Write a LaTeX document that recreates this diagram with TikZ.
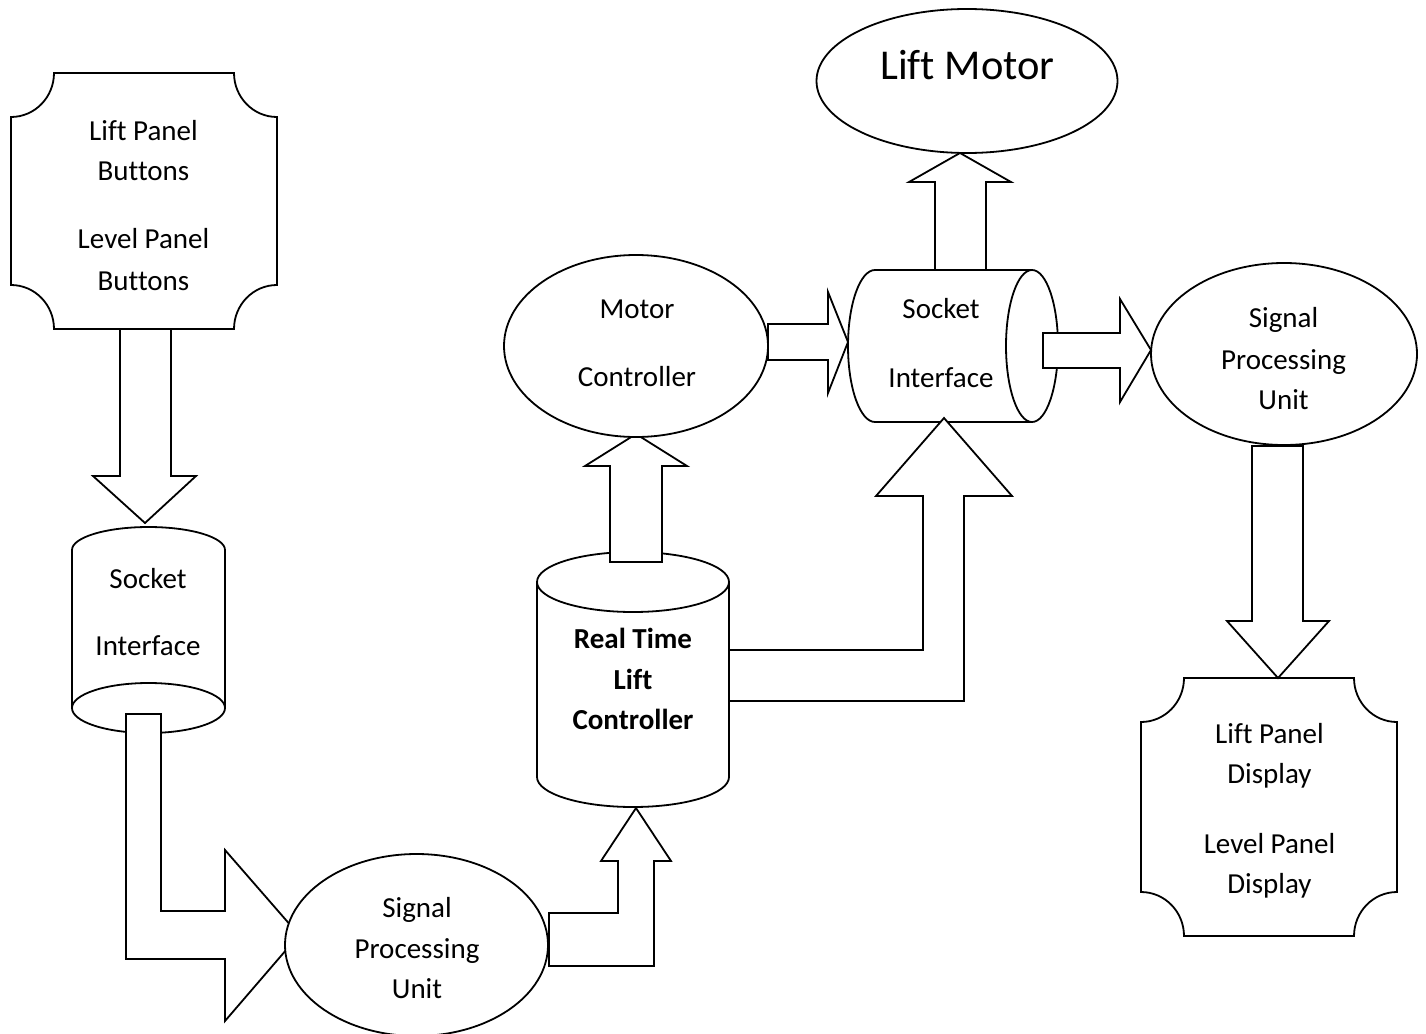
\documentclass[tikz,border=0pt]{standalone}
\usepackage{fontspec}
\setmainfont{Carlito}[Ligatures={NoCommon}]
\usetikzlibrary{shapes.geometric,calc}
\begin{document}
\begin{tikzpicture}[x=1pt,y=-1pt,
  shp/.style={draw=black, fill=white, line width=1.8pt, line join=miter},
  inner/.style={draw=black, line width=1.8pt},
  oval/.style={ellipse, draw=black, fill=white, line width=1.8pt, inner sep=0pt, outer sep=0pt},
  lbl/.style={anchor=base, inner sep=0pt, font=\fontsize{29}{35}\selectfont},
  blbl/.style={anchor=base, inner sep=0pt, font=\fontsize{29}{35}\selectfont\bfseries},
  big/.style={anchor=base, inner sep=0pt, font=\fontsize{42.5}{50}\selectfont},
]
\useasboundingbox (0,0) rectangle (1426,1033);

% ---- plaques ----
\draw[shp] (54,73) -- (234,73) arc[start angle=180,end angle=90,x radius=43,y radius=44]
  -- (277,285) arc[start angle=270,end angle=180,x radius=43,y radius=44]
  -- (54,329) arc[start angle=360,end angle=270,x radius=43,y radius=44]
  -- (11,117) arc[start angle=90,end angle=0,x radius=43,y radius=44] -- cycle;
\draw[shp] (1184,678) -- (1354,678) arc[start angle=180,end angle=90,x radius=43,y radius=44]
  -- (1397,892) arc[start angle=270,end angle=180,x radius=43,y radius=44]
  -- (1184,936) arc[start angle=360,end angle=270,x radius=43,y radius=44]
  -- (1141,722) arc[start angle=90,end angle=0,x radius=43,y radius=44] -- cycle;

% ---- cylinders ----
% Socket Interface (left, vertical, ellipse at bottom)
\draw[shp] (72,708) -- (72,550) arc[start angle=180,end angle=360,x radius=76.5,y radius=23]
  -- (225,708) arc[start angle=0,end angle=180,x radius=76.5,y radius=25] -- cycle;
\draw[inner] (72,708) arc[start angle=180,end angle=360,x radius=76.5,y radius=25];
% Real Time Lift Controller
\draw[shp] (537,582) -- (537,777) arc[start angle=180,end angle=0,x radius=96,y radius=30]
  -- (729,582) arc[start angle=0,end angle=-180,x radius=96,y radius=30] -- cycle;
\draw[inner] (537,582) arc[start angle=180,end angle=0,x radius=96,y radius=30];
% Socket Interface (right, horizontal)
\draw[shp] (875,270) -- (1032,270) arc[start angle=270,end angle=450,x radius=26,y radius=76]
  -- (875,422) arc[start angle=90,end angle=270,x radius=27,y radius=76] -- cycle;
\draw[inner] (1032,270) arc[start angle=270,end angle=90,x radius=26,y radius=76];

% ---- block arrows ----
% buttons -> socket
\draw[shp] (120,329) -- (120,476) -- (93,476) -- (145,523) -- (196,476) -- (171,476) -- (171,329) -- cycle;
% socket -> signal processing (L)
\draw[shp] (126,714) -- (161,714) -- (161,911) -- (225,911) -- (225,850) -- (299,935)
  -- (225,1021) -- (225,959) -- (126,959) -- cycle;
% signal processing -> real time controller
\draw[shp] (549,913) -- (618,913) -- (618,861) -- (601,861) -- (636,808) -- (671,861)
  -- (654,861) -- (654,966) -- (549,966) -- cycle;
% real time controller -> motor controller
\draw[shp] (610,562) -- (610,466) -- (585,466) -- (636,434) -- (687,466) -- (662,466) -- (662,562) -- cycle;
% real time controller -> socket interface (right)
\draw[shp] (729,650) -- (923,650) -- (923,496) -- (876,496) -- (944,418) -- (1012,496)
  -- (964,496) -- (964,701) -- (729,701) -- cycle;
% motor controller -> socket interface
\draw[shp] (768,324) -- (828,324) -- (828,292) -- (848,342) -- (828,393) -- (828,360) -- (768,360) -- cycle;
% socket interface -> lift motor
\draw[shp] (935,270) -- (935,182) -- (909,182) -- (960,153) -- (1011,182) -- (986,182) -- (986,270) -- cycle;
% socket interface -> signal processing (right)
\draw[shp] (1043,333) -- (1120,333) -- (1120,299) -- (1151,350) -- (1120,402) -- (1120,368) -- (1043,368) -- cycle;
% signal processing (right) -> display
\draw[shp] (1252,446) -- (1252,621) -- (1227,621) -- (1278,678) -- (1329,621) -- (1303,621) -- (1303,446) -- cycle;

% ---- ellipses ----
\node[oval, minimum width=301pt, minimum height=144pt] (lm) at (967,81) {};
\node[oval, minimum width=264pt, minimum height=182pt] (mc) at (636,346) {};
\node[oval, minimum width=263pt, minimum height=182pt] (spu1) at (416.5,945) {};
\node[oval, minimum width=266pt, minimum height=182pt] (spu2) at (1284,354) {};

% ---- labels ----
\node[lbl] (t1) at (143.5,140) {Lift Panel};
\node[lbl] (t2) at (143.5,180) {Buttons};
\node[lbl] (t3) at (143.5,248) {Level Panel};
\node[lbl] (t4) at (143.5,290) {Buttons};

\node[lbl] (s1a) at (148,588) {Socket};
\node[lbl] (s1b) at (148,655) {Interface};

\node[lbl] (p1a) at (417,917) {Signal};
\node[lbl] (p1b) at (417,958) {Processing};
\node[lbl] (p1c) at (417,998) {Unit};

\node[blbl] (r1) at (633,648) {Real Time};
\node[blbl] (r2) at (633,689) {Lift};
\node[blbl] (r3) at (633,729) {Controller};

\node[lbl] (m1) at (637,318) {Motor};
\node[lbl] (m2) at (637,386) {Controller};

\node[lbl] (s2a) at (941,318) {Socket};
\node[lbl] (s2b) at (941,387) {Interface};

\node[big] (lmt) at (967.5,79) {Lift Motor};

\node[lbl] (p2a) at (1283.5,327) {Signal};
\node[lbl] (p2b) at (1283.5,369) {Processing};
\node[lbl] (p2c) at (1283.5,409) {Unit};

\node[lbl] (d1) at (1269.5,743) {Lift Panel};
\node[lbl] (d2) at (1269.5,783) {Display};
\node[lbl] (d3) at (1269.5,853) {Level Panel};
\node[lbl] (d4) at (1269.5,893) {Display};
\end{tikzpicture}
\end{document}
